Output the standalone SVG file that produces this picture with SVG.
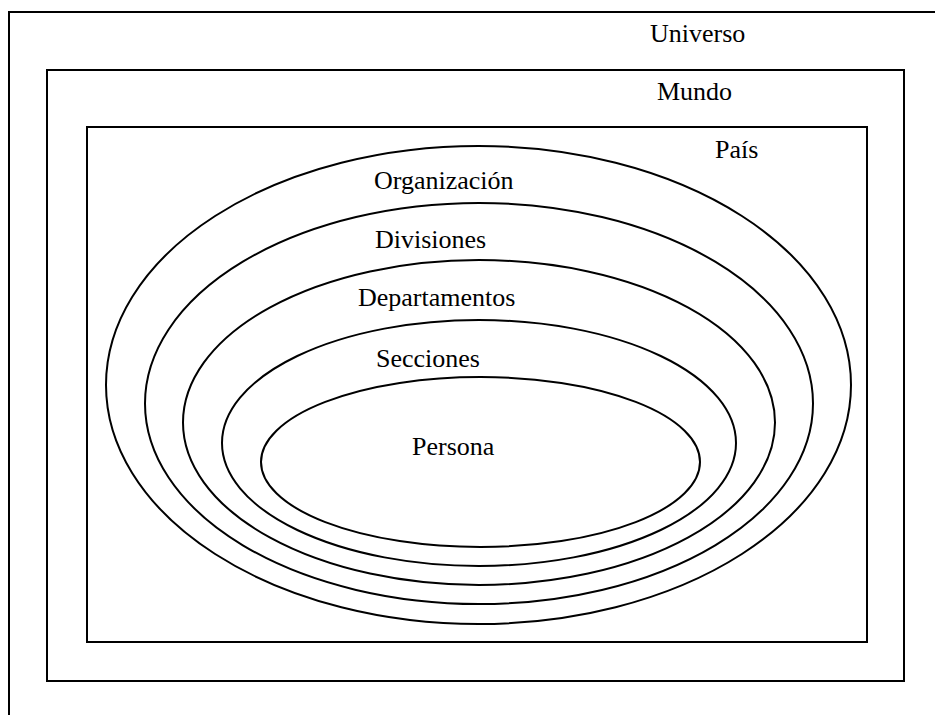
<svg xmlns="http://www.w3.org/2000/svg" width="935" height="715" viewBox="0 0 935 715">
<style>
.b{fill:none;stroke:#000;stroke-width:2}
.t{font-family:"Liberation Serif","Times New Roman",serif;font-size:26px;fill:#000}
</style>
<rect width="935" height="715" fill="#fff"/>
<g id="universo">
<rect class="b" x="9" y="12" width="940" height="720"/>
<text class="t" x="650" y="42">Universo</text>
</g>
<g id="mundo">
<rect class="b" x="47" y="70" width="857" height="611"/>
<text class="t" x="657" y="100">Mundo</text>
</g>
<g id="pais">
<rect class="b" x="87" y="127" width="780" height="515"/>
<text class="t" x="715" y="158">País</text>
</g>
<g id="organizacion">
<ellipse class="b" cx="478.5" cy="385" rx="372.5" ry="239"/>
<text class="t" x="374" y="189">Organización</text>
</g>
<g id="divisiones">
<ellipse class="b" cx="479" cy="403.5" rx="334" ry="200.5"/>
<text class="t" x="375" y="248">Divisiones</text>
</g>
<g id="departamentos">
<ellipse class="b" cx="479" cy="422.5" rx="296" ry="162.5"/>
<text class="t" x="358" y="306">Departamentos</text>
</g>
<g id="secciones">
<ellipse class="b" cx="479" cy="443" rx="257" ry="123"/>
<text class="t" x="376" y="367">Secciones</text>
</g>
<g id="persona">
<ellipse class="b" cx="480.5" cy="462" rx="219.5" ry="85"/>
<text class="t" x="412" y="455">Persona</text>
</g>
<g id="connectors"/>
</svg>
